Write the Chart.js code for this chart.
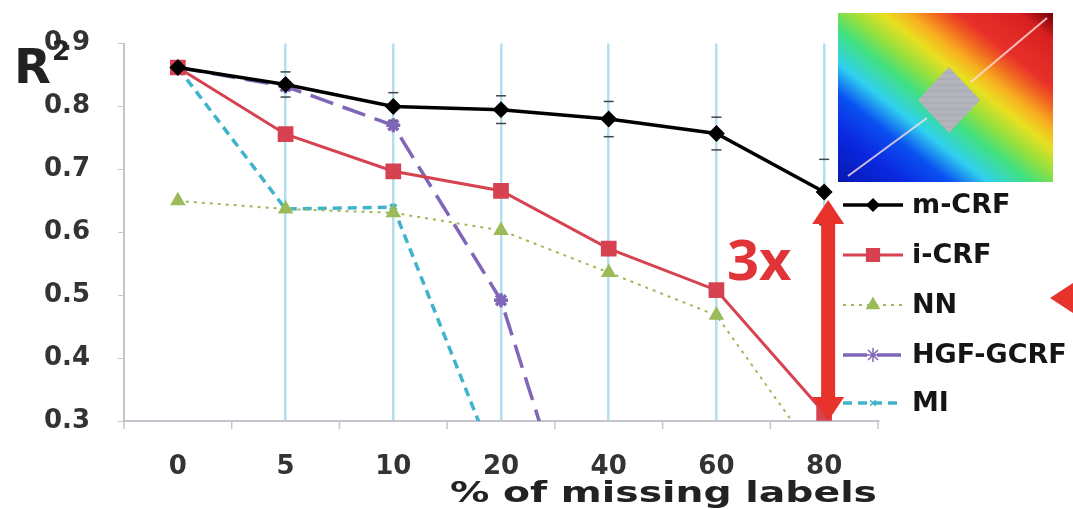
<!DOCTYPE html>
<html>
<head>
    <title>R2 vs missing labels</title>
    <script src="https://cdn.jsdelivr.net/npm/chart.js"></script>
    <style>
        body { margin: 0; background: #fff; }
        canvas { display: block; }
    </style>
</head>
<body>
    <canvas id="myChart" width="1073" height="509"></canvas>
    <script>
        // x categories (% of missing labels)
        const categories = ['0', '5', '10', '20', '40', '60', '80'];
        // R^2 per method
        const mCRF = [0.862, 0.835, 0.800, 0.795, 0.780, 0.757, 0.664];
        const iCRF = [0.862, 0.756, 0.697, 0.666, 0.574, 0.508, 0.313];
        const nnValues = [0.650, 0.637, 0.631, 0.603, 0.536, 0.468, 0.228];
        const hgfValues = [0.862, 0.832, 0.770, 0.492, -0.05, null, null];
        const miValues = [0.862, 0.637, 0.640, 0.210, null, null, null];
        // error bar half widths of m-CRF
        const mCRFErr = [0, 0.02, 0.022, 0.022, 0.028, 0.026, 0.052];
        const yTicks = [0.3, 0.4, 0.5, 0.6, 0.7, 0.8, 0.9];

        const tickFont = { family: 'DejaVu Sans', weight: 'bold', size: 26 };

        // everything drawn around the plot: texts, colour map, arrow, legend
        const extras = {
            id: 'extras',
            beforeDatasetsDraw(chart) {
                const ctx = chart.ctx;
                const x = chart.scales.x, y = chart.scales.y;
                ctx.save();
                // small ticks between categories
                ctx.strokeStyle = '#c4c4cc';
                ctx.lineWidth = 1.5;
                const step = x.getPixelForValue(1) - x.getPixelForValue(0);
                for (let i = 0; i <= categories.length; i++) {
                    const px = x.getPixelForValue(0) - step / 2 + i * step;
                    ctx.beginPath();
                    ctx.moveTo(px, y.bottom);
                    ctx.lineTo(px, y.bottom + 8);
                    ctx.stroke();
                }
                // error caps of m-CRF
                ctx.strokeStyle = '#444';
                ctx.lineWidth = 1.5;
                mCRF.forEach((v, i) => {
                    if (!mCRFErr[i]) return;
                    const px = x.getPixelForValue(i);
                    [v + mCRFErr[i], v - mCRFErr[i]].forEach(e => {
                        const py = y.getPixelForValue(e);
                        ctx.beginPath();
                        ctx.moveTo(px - 5, py);
                        ctx.lineTo(px + 5, py);
                        ctx.stroke();
                    });
                });
                ctx.restore();
            },
            afterDraw(chart) {
                const ctx = chart.ctx;
                const x = chart.scales.x, y = chart.scales.y;
                ctx.save();

                // R^2 label
                ctx.fillStyle = '#222';
                ctx.textBaseline = 'alphabetic';
                ctx.textAlign = 'left';
                ctx.font = 'bold 48px "DejaVu Sans"';
                ctx.fillText('R', 14, 83);
                ctx.font = 'bold 26px "DejaVu Sans"';
                ctx.fillText('2', 52, 60);

                // axis title, stretched wide like the original
                ctx.font = 'bold 29px "DejaVu Sans"';
                const title = '% of missing labels';
                const w = ctx.measureText(title).width;
                ctx.save();
                ctx.translate(450, 502);
                ctx.scale(427 / w, 1);
                ctx.fillText(title, 0, 0);
                ctx.restore();

                // colour map inset, bands run from top-left to bottom-right
                const bx = 838, by = 13, bw = 215, bh = 169;
                const cx = bx + bw / 2, cy = by + bh / 2;
                const g = ctx.createLinearGradient(cx - 82, cy + 104, cx + 82, cy - 104);
                g.addColorStop(0, '#0818b0');
                g.addColorStop(0.15, '#0a28e0');
                g.addColorStop(0.26, '#0a50f0');
                g.addColorStop(0.35, '#30d0f0');
                g.addColorStop(0.45, '#40e080');
                g.addColorStop(0.52, '#90e040');
                g.addColorStop(0.6, '#e8e020');
                g.addColorStop(0.66, '#f8b020');
                g.addColorStop(0.73, '#f06020');
                g.addColorStop(0.78, '#e8302a');
                g.addColorStop(0.92, '#d82020');
                g.addColorStop(1, '#700008');
                ctx.fillStyle = g;
                ctx.fillRect(bx, by, bw, bh);
                // grey diamond
                const dx = 949, dy = 100;
                ctx.fillStyle = '#b4b4bc';
                ctx.beginPath();
                ctx.moveTo(dx, dy - 33);
                ctx.lineTo(dx + 31, dy);
                ctx.lineTo(dx, dy + 33);
                ctx.lineTo(dx - 31, dy);
                ctx.closePath();
                ctx.fill();
                ctx.strokeStyle = 'rgba(160,160,170,0.6)';
                ctx.lineWidth = 1;
                for (let k = -27; k <= 27; k += 6) {
                    const half = 31 * (1 - Math.abs(k) / 33);
                    ctx.beginPath();
                    ctx.moveTo(dx - half, dy + k);
                    ctx.lineTo(dx + half, dy + k);
                    ctx.stroke();
                }
                ctx.strokeStyle = 'rgba(255,225,225,0.8)';
                ctx.lineWidth = 2;
                ctx.beginPath();
                ctx.moveTo(bx + 10, by + bh - 6);
                ctx.lineTo(dx - 22, dy + 18);
                ctx.moveTo(dx + 22, dy - 18);
                ctx.lineTo(bx + bw - 6, by + 5);
                ctx.stroke();

                // red double arrow at 80
                const ax = x.getPixelForValue(6) + 4;
                const top = 200, bot = y.bottom;
                ctx.fillStyle = '#e8322c';
                ctx.fillRect(ax - 7, top + 20, 14, bot - top - 40);
                ctx.beginPath();
                ctx.moveTo(ax, top);
                ctx.lineTo(ax + 16, top + 24);
                ctx.lineTo(ax - 16, top + 24);
                ctx.closePath();
                ctx.fill();
                ctx.beginPath();
                ctx.moveTo(ax, bot);
                ctx.lineTo(ax + 16, bot - 24);
                ctx.lineTo(ax - 16, bot - 24);
                ctx.closePath();
                ctx.fill();

                // 3x
                ctx.fillStyle = '#e03438';
                ctx.font = 'bold 56px "Open Sans"';
                ctx.fillText('3x', 727, 280);

                // red pointer at the right edge
                ctx.fillStyle = '#e8322c';
                ctx.beginPath();
                ctx.moveTo(1050, 298);
                ctx.lineTo(1073, 283);
                ctx.lineTo(1073, 313);
                ctx.closePath();
                ctx.fill();

                // legend
                const rows = [205, 255, 305, 355, 403];
                chart.data.datasets.forEach((ds, i) => {
                    const ly = rows[i];
                    ctx.strokeStyle = ds.borderColor;
                    ctx.fillStyle = ds.backgroundColor;
                    ctx.lineWidth = ds.borderWidth;
                    ctx.setLineDash(ds.borderDash || []);
                    ctx.beginPath();
                    ctx.moveTo(843, ly);
                    ctx.lineTo(903, ly);
                    ctx.stroke();
                    ctx.setLineDash([]);
                    ctx.lineWidth = 1.5;
                    Chart.helpers.drawPoint(ctx, {
                        pointStyle: ds.pointStyle,
                        radius: ds.pointRadius,
                        rotation: 0,
                        borderWidth: 1.5
                    }, 873, ly);
                    ctx.fillStyle = '#151515';
                    ctx.font = 'bold 27px "DejaVu Sans"';
                    ctx.textBaseline = 'middle';
                    ctx.fillText(ds.label, 912, ly + 1);
                });
                ctx.restore();
            }
        };

        const ctx = document.getElementById('myChart').getContext('2d');
        const myChart = new Chart(ctx, {
            type: 'line',
            data: {
                labels: categories,
                datasets: [{
                    label: 'm-CRF',
                    data: mCRF,
                    borderColor: '#000000',
                    backgroundColor: '#000000',
                    borderWidth: 3.5,
                    pointStyle: 'rectRot',
                    pointRadius: 6
                }, {
                    label: 'i-CRF',
                    data: iCRF,
                    borderColor: '#d6424f',
                    backgroundColor: '#d6424f',
                    borderWidth: 3,
                    pointStyle: 'rect',
                    pointRadius: 9
                }, {
                    label: 'NN',
                    data: nnValues,
                    borderColor: '#9bbb59',
                    backgroundColor: '#9bbb59',
                    borderWidth: 2,
                    borderDash: [3, 5],
                    pointStyle: 'triangle',
                    pointRadius: 7
                }, {
                    label: 'HGF-GCRF',
                    data: hgfValues,
                    borderColor: '#7f66b8',
                    backgroundColor: '#7f66b8',
                    borderWidth: 3.5,
                    borderDash: [24, 10],
                    pointStyle: 'star',
                    pointRadius: 7
                }, {
                    label: 'MI',
                    data: miValues,
                    borderColor: '#3fb3cc',
                    backgroundColor: '#3fb3cc',
                    borderWidth: 3.5,
                    borderDash: [9, 6],
                    pointStyle: 'crossRot',
                    pointRadius: 4
                }]
            },
            options: {
                responsive: false,
                animation: false,
                events: [],
                layout: { padding: { top: 42, right: 195, left: 0, bottom: 0 } },
                elements: { line: { tension: 0 } },
                plugins: {
                    legend: { display: false },
                    tooltip: { enabled: false }
                },
                scales: {
                    x: {
                        offset: true,
                        afterFit: s => { s.height = 88; },
                        grid: {
                            offset: false,
                            drawTicks: false,
                            lineWidth: 2.5,
                            color: c => c.index === 0 ? 'rgba(0,0,0,0)' : '#b2def0'
                        },
                        border: { color: '#c4c4cc', width: 2 },
                        ticks: { font: tickFont, color: '#333', padding: 31 }
                    },
                    y: {
                        min: 0.3,
                        max: 0.9,
                        afterFit: s => { s.width = 124; },
                        afterBuildTicks: s => { s.ticks = yTicks.map(v => ({ value: v })); },
                        grid: { drawOnChartArea: false, tickLength: 6, color: '#c4c4cc' },
                        border: { color: '#c4c4cc', width: 2 },
                        ticks: {
                            font: tickFont, color: '#333', padding: 28,
                            callback: v => v.toFixed(1)
                        }
                    }
                }
            },
            plugins: [extras]
        });
    </script>
</body>
</html>
